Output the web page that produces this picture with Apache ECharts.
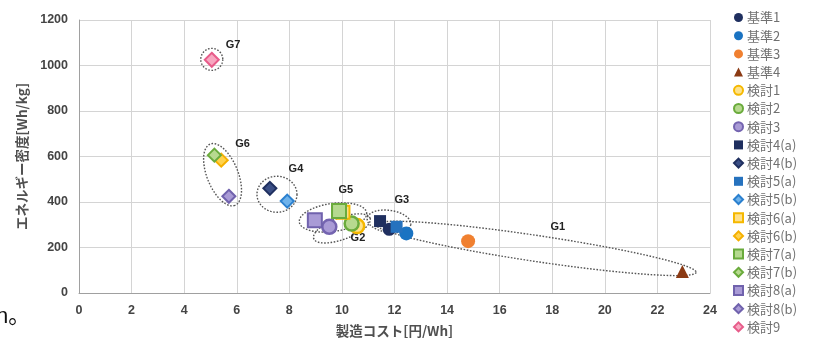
<!DOCTYPE html>
<html>
<head>
<meta charset="utf-8">
<script src="https://cdn.jsdelivr.net/npm/echarts@6/dist/echarts.min.js"></script>
<style>
html,body{margin:0;padding:0;background:#fff;}
#chart{width:816px;height:338px;}
</style>
</head>
<body>
<div id="chart"></div>
<script>
// ---- data ----
const seriesNames = ['基準1','基準2','基準3','基準4','検討1','検討2','検討3','検討4(a)','検討4(b)','検討5(a)','検討5(b)','検討6(a)','検討6(b)','検討7(a)','検討7(b)','検討8(a)','検討8(b)','検討9'];
const costValues   = [11.8, 12.45, 14.8, 22.95, 10.58, 10.37, 9.52, 11.45, 7.26, 12.08, 7.92, 10.04, 5.41, 9.89, 5.15, 8.97, 5.70, 5.05];
const energyValues = [280, 262, 228, 95, 294, 305, 291, 316, 460, 291, 404, 355, 584, 360, 606, 320, 425, 1025];

const groupLabels = ['G1','G2','G3','G4','G5','G6','G7'];
const groupCx     = [17.38, 10.0, 11.79, 7.53, 9.66, 5.46, 5.05];
const groupCy     = [196, 284, 315, 434, 332, 520, 1027];
const groupLabelX = [18.21, 10.61, 12.28, 8.25, 10.15, 6.22, 5.86];
const groupLabelY = [292, 244, 407, 544, 453, 655, 1089];

const xTicks = [0,2,4,6,8,10,12,14,16,18,20,22,24];
const yTicks = [0,200,400,600,800,1000,1200];

// ---- styles (not data) ----
const DIAMOND = 'path://M5,0L10,5L5,10L0,5Z';
const markerStyles = [
  {symbol:'circle', size:13, color:'#1f2f5f', border:'#1f2f5f', bw:0},
  {symbol:'circle', size:14, color:'#1a73c2', border:'#1a73c2', bw:0},
  {symbol:'circle', size:14, color:'#f08030', border:'#f08030', bw:0},
  {symbol:'triangle', size:13, color:'#8b3a14', border:'#8b3a14', bw:0},
  {symbol:'circle', size:14, color:'#fde28a', border:'#f5b800', bw:2.5},
  {symbol:'circle', size:14, color:'#b7d98f', border:'#6aab3c', bw:2.5},
  {symbol:'circle', size:14, color:'#a99bd6', border:'#7464b0', bw:2.5},
  {symbol:'rect', size:12, color:'#1f2f5f', border:'#1f2f5f', bw:0},
  {symbol:DIAMOND, size:13, color:'#3b4f86', border:'#1f2f5f', bw:2},
  {symbol:'rect', size:12, color:'#2672be', border:'#2672be', bw:0},
  {symbol:DIAMOND, size:13, color:'#6fb2ea', border:'#2b80cf', bw:2},
  {symbol:'rect', size:13, color:'#ffe08a', border:'#f5b800', bw:2},
  {symbol:DIAMOND, size:13, color:'#ffd24d', border:'#f5b000', bw:2},
  {symbol:'rect', size:14, color:'#b5d98f', border:'#6aab3c', bw:2},
  {symbol:DIAMOND, size:13, color:'#b7d98f', border:'#6aab3c', bw:2},
  {symbol:'rect', size:14, color:'#a99bd6', border:'#7062ad', bw:2},
  {symbol:DIAMOND, size:13, color:'#a99bd6', border:'#7062ad', bw:2},
  {symbol:DIAMOND, size:14, color:'#f7a7c0', border:'#e75c8a', bw:2}
];
// ellipse shapes in pixels: semi-axes a,b and rotation (deg)
const ellipseShapes = [
  {a:162, b:13, rot:8.5},
  {a:30, b:11, rot:-20},
  {a:22, b:11, rot:8},
  {a:20, b:18, rot:0},
  {a:34, b:14, rot:-8},
  {a:33, b:15.5, rot:68},
  {a:11, b:11, rot:0}
];

const chart = echarts.init(document.getElementById('chart'));

const scatterSeries = seriesNames.map((n, i) => ({
  name: n,
  type: 'scatter',
  data: [[costValues[i], energyValues[i]]],
  symbol: markerStyles[i].symbol,
  symbolSize: markerStyles[i].size,
  itemStyle: {color: markerStyles[i].color, borderColor: markerStyles[i].border, borderWidth: markerStyles[i].bw, opacity: 1},
  z: 3,
  emphasis: {disabled: true}
}));

const ellipseSeries = {
  type: 'custom',
  z: 2,
  silent: true,
  data: groupLabels.map((g, i) => [groupCx[i], groupCy[i], groupLabelX[i], groupLabelY[i]]),
  renderItem: function (params, api) {
    const e = ellipseShapes[params.dataIndex];
    const c = api.coord([api.value(0), api.value(1)]);
    const lp = api.coord([api.value(2), api.value(3)]);
    const th = e.rot * Math.PI / 180;
    const pts = [];
    for (let k = 0; k <= 120; k++) {
      const t = k / 120 * 2 * Math.PI;
      const ux = e.a * Math.cos(t), uy = e.b * Math.sin(t);
      pts.push([c[0] + ux * Math.cos(th) - uy * Math.sin(th), c[1] + ux * Math.sin(th) + uy * Math.cos(th)]);
    }
    return {
      type: 'group',
      children: [
        {type: 'polygon', shape: {points: pts}, style: {fill: 'none', stroke: '#555', lineWidth: 1.4, lineDash: [1.6, 1.6]}},
        {type: 'text', x: lp[0], y: lp[1], style: {text: groupLabels[params.dataIndex], fill: '#222', font: 'bold 11px "Liberation Sans", sans-serif', align: 'center', verticalAlign: 'middle'}}
      ]
    };
  }
};

chart.setOption({
  animation: false,
  backgroundColor: '#fff',
  grid: {left: 79, right: 106, top: 20, bottom: 45, containLabel: false, outerBoundsMode: 'none'},
  xAxis: {
    type: 'value', min: xTicks[0], max: xTicks[xTicks.length - 1], interval: 2,
    name: '製造コスト[円/Wh]', nameLocation: 'middle', nameGap: 31,
    nameTextStyle: {fontSize: 13.5, fontWeight: 'bold', color: '#505050', fontFamily: 'Noto Sans CJK JP'},
    axisLine: {show: true, lineStyle: {color: '#a0a0a0', width: 1}},
    axisTick: {show: false},
    axisLabel: {margin: 11, fontSize: 12.5, fontWeight: 'bold', color: '#444', fontFamily: 'Liberation Sans', formatter: v => String(v)},
    splitLine: {show: true, lineStyle: {color: '#d4d4d4', width: 1}}
  },
  yAxis: {
    type: 'value', min: yTicks[0], max: yTicks[yTicks.length - 1], interval: 200,
    name: 'エネルギー密度[Wh/kg]', nameLocation: 'middle', nameGap: 50, nameRotate: 90,
    nameTextStyle: {fontSize: 13.5, fontWeight: 'bold', color: '#505050', fontFamily: 'Noto Sans CJK JP'},
    axisLine: {show: true, lineStyle: {color: '#a0a0a0', width: 1}},
    axisTick: {show: false},
    axisLabel: {margin: 11, fontSize: 12.5, fontWeight: 'bold', color: '#444', fontFamily: 'Liberation Sans', formatter: v => String(v)},
    splitLine: {show: true, lineStyle: {color: '#d4d4d4', width: 1}}
  },
  legend: {
    orient: 'vertical', left: 733, top: 11, height: 327, padding: 0,
    itemWidth: 9, itemHeight: 9, itemGap: 5.2,
    data: seriesNames,
    textStyle: {fontSize: 13, color: '#707070', fontFamily: 'Noto Sans CJK JP', lineHeight: 13, padding: [0, 0, 0, -1]},
    selectedMode: false
  },
  graphic: [
    {type: 'text', left: -4, top: 306, style: {text: 'n。', font: '22px "Liberation Sans", "Noto Sans CJK JP", sans-serif', fill: '#111'}}
  ],
  series: [ellipseSeries].concat(scatterSeries)
});
</script>
</body>
</html>
